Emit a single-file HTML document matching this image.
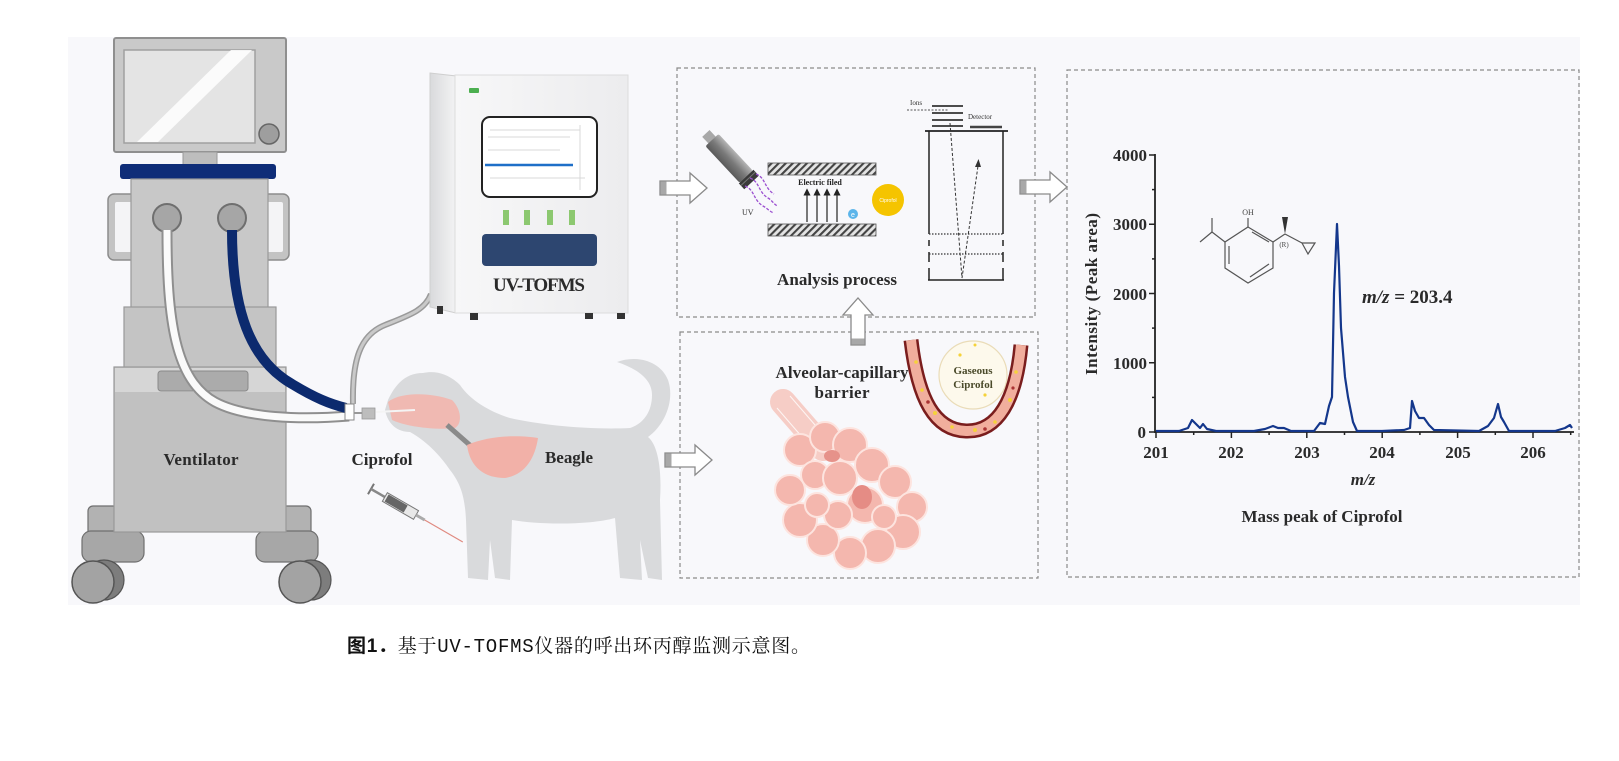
<!DOCTYPE html>
<html><head><meta charset="utf-8"><style>
html,body{margin:0;padding:0;background:#fff;}
svg{display:block;}
.lb{font-family:"Liberation Serif",serif;font-weight:bold;fill:#2a2a2a;}
</style></head><body>
<svg width="1619" height="761" viewBox="0 0 1619 761" xmlns="http://www.w3.org/2000/svg">
<defs>
<pattern id="h" width="5" height="5" patternUnits="userSpaceOnUse" patternTransform="rotate(45)"><rect width="5" height="5" fill="#e4e4e4"/><line x1="1" y1="0" x2="1" y2="5" stroke="#444" stroke-width="2.2"/></pattern>
<linearGradient id="side" x1="0" x2="1"><stop offset="0" stop-color="#d9dadc"/><stop offset="1" stop-color="#f3f3f4"/></linearGradient>
<linearGradient id="front" x1="0" x2="1"><stop offset="0" stop-color="#f7f7f8"/><stop offset="1" stop-color="#ececee"/></linearGradient>
<linearGradient id="lamp" x1="0" y1="0" x2="0" y2="1"><stop offset="0" stop-color="#b5b5b5"/><stop offset="0.5" stop-color="#7a7a7a"/><stop offset="1" stop-color="#5a5a5a"/></linearGradient>
<marker id="ah" markerWidth="6" markerHeight="6" refX="3" refY="3" orient="auto"><path d="M0,0 L6,3 L0,6 Z" fill="#222"/></marker>
<g id="arr"><path d="M0,-7 L30,-7 L30,-15 L47,0 L30,15 L30,7 L0,7 Z" fill="#fff" stroke="#8a8a8a" stroke-width="1.3"/><rect x="0.5" y="-6.5" width="6" height="13" fill="#a8a8a8"/></g>
</defs>

<rect x="68" y="37" width="1512" height="568" fill="#f8f8fb"/>

<!-- dashed boxes -->
<g fill="none" stroke="#8a8a8a" stroke-width="1.2" stroke-dasharray="4 3">
<rect x="677" y="68" width="358" height="249"/>
<rect x="680" y="332" width="358" height="246"/>
<rect x="1067" y="70" width="512" height="507"/>
</g>

<!-- ===== Ventilator ===== -->
<rect x="108" y="194" width="30" height="66" rx="6" fill="#c3c3c3" stroke="#8c8c8c" stroke-width="1.5"/>
<rect x="115" y="202" width="20" height="50" rx="2" fill="#f4f4f6"/>
<rect x="262" y="194" width="27" height="66" rx="6" fill="#c3c3c3" stroke="#8c8c8c" stroke-width="1.5"/>
<rect x="265" y="202" width="18" height="50" rx="2" fill="#f4f4f6"/>
<rect x="114" y="38" width="172" height="114" rx="2" fill="#c9c9c9" stroke="#8f8f8f" stroke-width="2"/>
<rect x="124" y="50" width="131" height="93" fill="#e4e4e4" stroke="#a0a0a0" stroke-width="1.5"/>
<polygon points="137,142 158,142 252,50 231,50" fill="#fff" opacity="0.85"/>
<circle cx="269" cy="134" r="10" fill="#9e9e9e" stroke="#666" stroke-width="1.5"/>
<rect x="183" y="152" width="34" height="13" fill="#bdbdbd" stroke="#999"/>
<rect x="120" y="164" width="156" height="15" rx="3" fill="#0f2d78"/>
<rect x="131" y="179" width="137" height="129" fill="#c8c8c8" stroke="#999" stroke-width="1.2"/>
<circle cx="167" cy="218" r="14" fill="#a6a6a6" stroke="#6f6f6f" stroke-width="2"/>
<circle cx="232" cy="218" r="14" fill="#a6a6a6" stroke="#6f6f6f" stroke-width="2"/>
<rect x="124" y="307" width="152" height="61" fill="#c4c4c4" stroke="#999" stroke-width="1.2"/>
<rect x="88" y="506" width="30" height="32" rx="5" fill="#b2b2b2" stroke="#6f6f6f" stroke-width="1.2"/>
<rect x="82" y="531" width="62" height="31" rx="9" fill="#a7a7a7" stroke="#6f6f6f" stroke-width="1.2"/>
<rect x="281" y="506" width="30" height="32" rx="5" fill="#b2b2b2" stroke="#6f6f6f" stroke-width="1.2"/>
<rect x="256" y="531" width="62" height="31" rx="9" fill="#a7a7a7" stroke="#6f6f6f" stroke-width="1.2"/>
<rect x="114" y="367" width="172" height="165" fill="#c1c1c1" stroke="#999" stroke-width="1.2"/>
<rect x="115" y="368" width="170" height="24" fill="#d6d6d6"/>
<rect x="158" y="371" width="90" height="20" rx="3" fill="#ababab" stroke="#8a8a8a"/>
<text class="lb" x="201" y="465" font-size="17" text-anchor="middle" textLength="75">Ventilator</text>
<circle cx="104" cy="580" r="20" fill="#7d7d7d" stroke="#555" stroke-width="1.2"/>
<circle cx="93" cy="582" r="21" fill="#a3a3a3" stroke="#555" stroke-width="1.5"/>
<circle cx="311" cy="580" r="20" fill="#7d7d7d" stroke="#555" stroke-width="1.2"/>
<circle cx="300" cy="582" r="21" fill="#a3a3a3" stroke="#555" stroke-width="1.5"/>

<!-- tubes -->
<path d="M167,230 C167,320 175,380 215,402 C245,418 300,420 349,416" fill="none" stroke="#8f8f8f" stroke-width="11"/>
<path d="M167,230 C167,320 175,380 215,402 C245,418 300,420 349,416" fill="none" stroke="#fafafa" stroke-width="7"/>
<path d="M232,230 C232,310 250,360 292,384 C315,398 330,404 346,408" fill="none" stroke="#0c2a6e" stroke-width="10"/>
<path d="M353,404 C352,360 360,335 385,325 C410,315 425,310 431,294" fill="none" stroke="#9a9a9a" stroke-width="6"/>
<path d="M353,404 C352,360 360,335 385,325 C410,315 425,310 431,294" fill="none" stroke="#c9c9c9" stroke-width="3"/>

<!-- ===== UV-TOFMS ===== -->
<polygon points="430,73 456,76 456,313 430,307" fill="url(#side)" stroke="#cfcfcf"/>
<rect x="455" y="75" width="173" height="238" fill="url(#front)" stroke="#dcdcdc"/>
<rect x="469" y="88" width="10" height="5" rx="1" fill="#4caf50"/>
<rect x="482" y="117" width="115" height="80" rx="8" fill="#fff" stroke="#222" stroke-width="2"/>
<g stroke="#d8d8d8" stroke-width="1"><line x1="490" y1="130" x2="580" y2="130"/><line x1="488" y1="137" x2="570" y2="137"/><line x1="488" y1="150" x2="560" y2="150"/><line x1="490" y1="178" x2="585" y2="178"/><line x1="580" y1="125" x2="580" y2="190"/></g>
<line x1="485" y1="165" x2="573" y2="165" stroke="#1e6fc8" stroke-width="2.5"/>
<g fill="#8cc870"><rect x="503" y="210" width="6" height="15"/><rect x="524" y="210" width="6" height="15"/><rect x="547" y="210" width="6" height="15"/><rect x="569" y="210" width="6" height="15"/></g>
<rect x="482" y="234" width="115" height="32" rx="4" fill="#2d4670"/>
<text class="lb" x="539" y="291" font-size="19" text-anchor="middle" textLength="92">UV-TOFMS</text>
<g fill="#333"><rect x="437" y="306" width="6" height="8"/><rect x="470" y="313" width="8" height="7"/><rect x="585" y="313" width="8" height="6"/><rect x="617" y="313" width="8" height="6"/></g>

<!-- ===== Dog ===== -->
<path d="M423,373 C405,373 395,385 388,400 L385,410 C388,425 398,432 410,432 C425,440 440,455 450,470 C462,485 465,500 466,520 L468,578 L488,580 L490,540 L495,578 L510,580 L512,520 C540,525 590,525 615,518 L620,578 L642,580 L640,540 L648,578 L662,580 L660,500 C662,470 658,445 648,437 C665,425 675,400 668,380 C660,360 635,355 617,362 C635,368 652,378 652,395 C652,415 640,425 630,428 C590,430 540,425 510,418 C490,412 470,400 460,385 C450,375 437,370 423,373 Z" fill="#d9dadc"/>
<path d="M388,402 C400,392 430,392 452,400 C462,410 462,424 455,428 C440,430 410,428 392,420 Z" fill="#f2b5ad" opacity="0.9"/>
<line x1="447" y1="425" x2="472" y2="447" stroke="#8a8a8a" stroke-width="5"/>
<path d="M467,445 C490,435 520,435 538,438 C535,458 525,475 505,478 C485,478 470,468 467,445 Z" fill="#f2b1a8"/>
<line x1="376" y1="412" x2="415" y2="410" stroke="#f4f4f4" stroke-width="2"/>
<rect x="345" y="404" width="9" height="16" fill="#fff" stroke="#888"/>
<rect x="362" y="408" width="13" height="11" fill="#bdbdbd" stroke="#999" stroke-width="0.8"/>
<line x1="354" y1="413" x2="362" y2="413" stroke="#999" stroke-width="2"/>
<text class="lb" x="382" y="465" font-size="17" text-anchor="middle" textLength="61">Ciprofol</text>
<text class="lb" x="569" y="463" font-size="17" text-anchor="middle" textLength="48">Beagle</text>
<g transform="translate(371,489) rotate(30)">
<line x1="0" y1="-6" x2="0" y2="6" stroke="#777" stroke-width="2"/>
<line x1="0" y1="0" x2="16" y2="0" stroke="#888" stroke-width="2.5"/>
<rect x="16" y="-5" width="36" height="10" fill="#e8e8e8" stroke="#777"/>
<rect x="18" y="-4" width="22" height="8" fill="#666"/>
<line x1="52" y1="0" x2="62" y2="0" stroke="#aaa" stroke-width="3"/>
<line x1="62" y1="0" x2="106" y2="0" stroke="#e08a80" stroke-width="1.2"/>
</g>

<!-- ===== Analysis box ===== -->
<g transform="translate(712,140) rotate(47)">
<rect x="-9" y="-5" width="10" height="10" fill="#a8a8a8"/>
<rect x="0" y="-9" width="50" height="18" rx="2" fill="url(#lamp)"/>
<rect x="50" y="-10" width="8" height="20" fill="#3a3a3a"/>
<line x1="53" y1="-10" x2="53" y2="10" stroke="#777" stroke-width="1"/>
</g>
<g fill="none" stroke="#9b4fd0" stroke-width="1.3" stroke-dasharray="3 1.5">
<path d="M750,178 C760,182 758,192 768,198 C772,200 774,205 778,206"/>
<path d="M745,186 C755,190 753,200 763,206 C767,208 770,212 774,213"/>
<path d="M756,174 C766,178 764,188 774,194"/>
</g>
<text x="742" y="215" font-family="Liberation Serif,serif" font-size="8" fill="#333">UV</text>
<rect x="768" y="163" width="108" height="12" fill="url(#h)" stroke="#555" stroke-width="0.8"/>
<rect x="768" y="224" width="108" height="12" fill="url(#h)" stroke="#555" stroke-width="0.8"/>
<text x="820" y="185" font-family="Liberation Serif,serif" font-weight="bold" font-size="8" fill="#222" text-anchor="middle">Electric filed</text>
<g stroke="#222" stroke-width="1.2" marker-end="url(#ah)">
<line x1="807" y1="222" x2="807" y2="192"/><line x1="817" y1="222" x2="817" y2="192"/><line x1="827" y1="222" x2="827" y2="192"/><line x1="837" y1="222" x2="837" y2="192"/>
</g>
<circle cx="853" cy="214" r="5" fill="#5cb5ea"/>
<text x="853" y="217" font-family="Liberation Sans,sans-serif" font-size="7" fill="#fff" text-anchor="middle">e</text>
<circle cx="888" cy="200" r="16" fill="#f5c400"/>
<text x="888" y="202" font-family="Liberation Sans,sans-serif" font-size="5" fill="#fff" text-anchor="middle">Ciprofol</text>
<text x="910" y="105" font-family="Liberation Serif,serif" font-size="7" fill="#333">Ions</text>
<line x1="907" y1="110" x2="948" y2="110" stroke="#555" stroke-width="1" stroke-dasharray="2 1.5"/>
<g stroke="#333" stroke-width="1.8"><line x1="932" y1="106" x2="963" y2="106"/><line x1="932" y1="113" x2="963" y2="113"/><line x1="932" y1="120" x2="963" y2="120"/><line x1="932" y1="126" x2="963" y2="126"/></g>
<text x="968" y="119" font-family="Liberation Serif,serif" font-size="7" fill="#333">Detector</text>
<line x1="970" y1="127" x2="1002" y2="127" stroke="#444" stroke-width="2.5"/>
<line x1="925" y1="131" x2="1008" y2="131" stroke="#222" stroke-width="1.8"/>
<g stroke="#222" stroke-width="1.5" fill="none">
<line x1="929" y1="131" x2="929" y2="234"/><line x1="1003" y1="131" x2="1003" y2="234"/>
<line x1="928" y1="280" x2="1004" y2="280"/>
<line x1="929" y1="240" x2="929" y2="246"/><line x1="929" y1="252" x2="929" y2="262"/><line x1="929" y1="268" x2="929" y2="280"/>
<line x1="1003" y1="240" x2="1003" y2="246"/><line x1="1003" y1="252" x2="1003" y2="262"/><line x1="1003" y1="268" x2="1003" y2="280"/>
</g>
<g stroke="#333" stroke-width="1.2" stroke-dasharray="1.5 1.5"><line x1="929" y1="234" x2="1003" y2="234"/><line x1="929" y1="254" x2="1003" y2="254"/></g>
<path d="M950,123 L962,278 L978,166" fill="none" stroke="#333" stroke-width="1" stroke-dasharray="3 2"/>
<path d="M975,167 L978.5,159 L981,167 Z" fill="#333"/>
<text class="lb" x="837" y="285" font-size="17" text-anchor="middle" textLength="120">Analysis process</text>

<!-- ===== Alveolar box ===== -->
<text class="lb" x="842" y="378" font-size="17" text-anchor="middle" textLength="133">Alveolar-capillary</text>
<text class="lb" x="842" y="398" font-size="17" text-anchor="middle" textLength="55">barrier</text>
<line x1="783" y1="402" x2="823" y2="448" stroke="#f6cdc6" stroke-width="26" stroke-linecap="round"/>
<line x1="777" y1="408" x2="815" y2="452" stroke="#fff" stroke-width="1" opacity="0.8"/>
<line x1="790" y1="396" x2="828" y2="440" stroke="#fff" stroke-width="1" opacity="0.8"/>
<g fill="#f4b7ae" stroke="#fde4df" stroke-width="2">
<circle cx="800" cy="450" r="16"/><circle cx="825" cy="437" r="15"/><circle cx="850" cy="445" r="17"/><circle cx="872" cy="465" r="17"/>
<circle cx="895" cy="482" r="16"/><circle cx="912" cy="507" r="15"/><circle cx="903" cy="532" r="17"/><circle cx="878" cy="546" r="17"/>
<circle cx="850" cy="553" r="16"/><circle cx="823" cy="540" r="16"/><circle cx="800" cy="520" r="17"/><circle cx="790" cy="490" r="15"/>
<circle cx="815" cy="475" r="14"/><circle cx="840" cy="478" r="17"/><circle cx="865" cy="505" r="18"/><circle cx="838" cy="515" r="14"/>
<circle cx="884" cy="517" r="12"/><circle cx="817" cy="505" r="12"/>
</g>
<ellipse cx="832" cy="456" rx="8" ry="6" fill="#e6928a"/>
<ellipse cx="862" cy="497" rx="10" ry="12" fill="#e58c85"/>
<circle cx="973" cy="375" r="34" fill="#fdf9ec" stroke="#eadcb8" stroke-width="1.2"/>
<path d="M911,340 C918,400 935,430 966,431 C998,432 1016,400 1021,345" fill="none" stroke="#7a1d1d" stroke-width="15"/>
<path d="M911,340 C918,400 935,430 966,431 C998,432 1016,400 1021,345" fill="none" stroke="#f1ae9d" stroke-width="10"/>
<g fill="#f5d23a"><circle cx="922" cy="390" r="1.8"/><circle cx="935" cy="413" r="2"/><circle cx="952" cy="427" r="1.8"/><circle cx="975" cy="430" r="2"/><circle cx="995" cy="422" r="1.8"/><circle cx="1010" cy="400" r="2"/><circle cx="1016" cy="372" r="1.8"/><circle cx="916" cy="362" r="1.8"/>
<circle cx="960" cy="355" r="1.6"/><circle cx="985" cy="395" r="1.6"/><circle cx="975" cy="345" r="1.5"/></g>
<g fill="#a33"><circle cx="928" cy="402" r="1.8"/><circle cx="985" cy="429" r="1.8"/><circle cx="1013" cy="388" r="1.6"/></g>
<text x="973" y="374" font-family="Liberation Serif,serif" font-weight="bold" font-size="11" fill="#4a4a2a" text-anchor="middle">Gaseous</text>
<text x="973" y="388" font-family="Liberation Serif,serif" font-weight="bold" font-size="11" fill="#4a4a2a" text-anchor="middle">Ciprofol</text>

<!-- ===== arrows ===== -->
<use href="#arr" transform="translate(660,188)"/>
<use href="#arr" transform="translate(1020,187)"/>
<use href="#arr" transform="translate(665,460)"/>
<use href="#arr" transform="translate(858,345) rotate(-90)"/>

<!-- ===== Chart ===== -->
<g stroke="#222" stroke-width="1.8" fill="none">
<line x1="1155" y1="154" x2="1155" y2="433"/>
<line x1="1155" y1="432" x2="1574" y2="432"/>
</g>
<g stroke="#222" stroke-width="1.5">
<line x1="1149" y1="432" x2="1155" y2="432"/><line x1="1149" y1="362.75" x2="1155" y2="362.75"/><line x1="1149" y1="293.5" x2="1155" y2="293.5"/><line x1="1149" y1="224.25" x2="1155" y2="224.25"/><line x1="1149" y1="155" x2="1155" y2="155"/>
<line x1="1152" y1="397.4" x2="1155" y2="397.4"/><line x1="1152" y1="328.1" x2="1155" y2="328.1"/><line x1="1152" y1="258.9" x2="1155" y2="258.9"/><line x1="1152" y1="189.6" x2="1155" y2="189.6"/>
<line x1="1156" y1="432" x2="1156" y2="438"/><line x1="1231.4" y1="432" x2="1231.4" y2="438"/><line x1="1306.8" y1="432" x2="1306.8" y2="438"/><line x1="1382.2" y1="432" x2="1382.2" y2="438"/><line x1="1457.6" y1="432" x2="1457.6" y2="438"/><line x1="1533" y1="432" x2="1533" y2="438"/>
<line x1="1193.7" y1="432" x2="1193.7" y2="435"/><line x1="1269.1" y1="432" x2="1269.1" y2="435"/><line x1="1344.5" y1="432" x2="1344.5" y2="435"/><line x1="1419.9" y1="432" x2="1419.9" y2="435"/><line x1="1495.3" y1="432" x2="1495.3" y2="435"/><line x1="1570.7" y1="432" x2="1570.7" y2="435"/>
</g>
<g class="lb" font-size="17" text-anchor="end">
<text x="1147" y="161">4000</text><text x="1147" y="230">3000</text><text x="1147" y="300">2000</text><text x="1147" y="369">1000</text><text x="1146" y="438">0</text>
</g>
<g class="lb" font-size="17" text-anchor="middle">
<text x="1156" y="458">201</text><text x="1231" y="458">202</text><text x="1307" y="458">203</text><text x="1382" y="458">204</text><text x="1458" y="458">205</text><text x="1533" y="458">206</text>
</g>
<text class="lb" x="1363" y="485" font-size="17" font-style="italic" text-anchor="middle">m/z</text>
<text class="lb" x="1322" y="522" font-size="17" text-anchor="middle" textLength="161">Mass peak of Ciprofol</text>
<text class="lb" transform="translate(1097,294) rotate(-90)" font-size="17" text-anchor="middle" textLength="162">Intensity (Peak area)</text>
<text class="lb" x="1362" y="303" font-size="19"><tspan font-style="italic">m/z</tspan> = 203.4</text>
<polyline fill="none" stroke="#14378c" stroke-width="2.2" stroke-linejoin="round" points="1156,431 1179,431 1188,428 1192,420 1196,424 1200,428 1203,424 1207,429 1216,431 1254,431 1265,429 1273,426 1278,428 1284,428 1291,431 1314,431 1320,423 1325,424 1329,406 1332,397 1334,293 1337,224 1339,266 1341,328 1345,377 1348,397 1353,422 1357,431 1382,431 1404,430 1410,428 1412,401 1415,411 1419,418 1424,418 1429,425 1434,430 1479,431 1488,426 1494,418 1498,404 1501,417 1504,422 1509,431 1532,431 1555,431 1565,428 1570,425 1572,428"/>
<g stroke="#555" stroke-width="1.2" fill="none">
<polygon points="1248,227 1273,242 1273,268 1248,283 1225,268 1225,242"/>
<line x1="1252" y1="232" x2="1269" y2="242"/><line x1="1269" y1="264" x2="1250" y2="277"/><line x1="1229" y1="246" x2="1229" y2="264"/>
<line x1="1248" y1="227" x2="1248" y2="218"/>
<line x1="1225" y1="242" x2="1212" y2="232"/><line x1="1212" y1="232" x2="1212" y2="218"/><line x1="1212" y1="232" x2="1200" y2="242"/>
<line x1="1273" y1="242" x2="1285" y2="234"/><line x1="1285" y1="234" x2="1302" y2="243"/>
<polygon points="1302,243 1315,243 1308,254"/>
</g>
<polygon points="1285,234 1282,217 1288,217" fill="#333"/>
<text x="1248" y="215" font-family="Liberation Serif,serif" font-size="8" fill="#444" text-anchor="middle">OH</text>
<text x="1284" y="247" font-family="Liberation Serif,serif" font-size="7" fill="#444" text-anchor="middle">(R)</text>

<!-- caption -->
<text x="347" y="652" font-family="'Liberation Mono','Noto Serif CJK SC',serif" font-size="19" fill="#111" textLength="463" lengthAdjust="spacing"><tspan font-weight="bold" font-family="'Liberation Sans','Noto Sans CJK SC',sans-serif">图1．</tspan>基于UV-TOFMS仪器的呼出环丙醇监测示意图。</text>
</svg>
</body></html>
